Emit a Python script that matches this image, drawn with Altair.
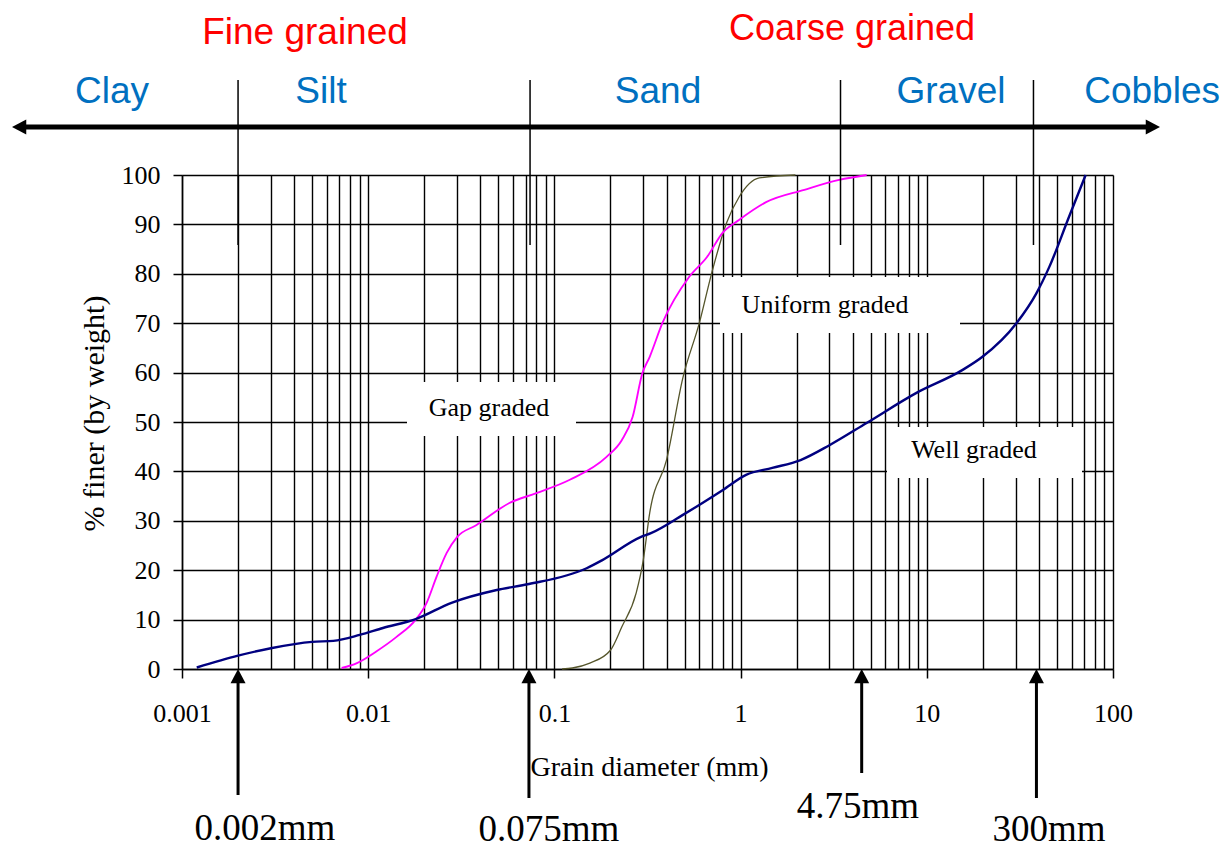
import altair as alt
import pandas as pd

# ---------------- data ----------------
well_x = [0.0012, 0.002, 0.003, 0.005, 0.0065, 0.009, 0.012, 0.018, 0.028, 0.049, 0.073,
          0.149, 0.18, 0.29, 0.33, 0.49, 0.80, 1.07, 1.48, 2.1, 3.0, 4.75, 8.8, 15.5, 19.9,
          30.3, 38.7, 45.5, 58.0, 71.3]
well_y = [0.3, 2.7, 4.2, 5.5, 5.7, 6.9, 8.3, 10.1, 13.4, 16.0, 17.2,
          20.4, 22.0, 26.7, 27.5, 31.2, 36.2, 39.3, 40.7, 42.3, 45.3, 49.8, 55.9, 60.5, 63.2,
          70.0, 76.0, 81.4, 91.5, 100.0]

gap_x = [0.0072, 0.0087, 0.011, 0.0142, 0.018, 0.0206, 0.0233, 0.0264, 0.030, 0.038, 0.0573,
         0.080, 0.121, 0.19, 0.23, 0.263, 0.297, 0.325, 0.38, 0.53, 0.66, 0.80, 0.98, 1.37,
         2.2, 3.38, 4.75]
gap_y = [0.2, 1.2, 3.5, 6.5, 10.0, 13.4, 18.7, 23.5, 26.7, 29.1, 33.6,
         35.6, 38.3, 42.9, 46.3, 51.0, 59.9, 63.2, 70.0, 79.4, 83.4, 88.3, 90.9, 94.5,
         97.0, 99.0, 100.0]

uni_x = [0.11, 0.125, 0.155, 0.2, 0.23, 0.275, 0.30, 0.325, 0.40, 0.49, 0.60, 0.70, 0.84,
         0.98, 1.26, 1.97]
uni_y = [0.0, 0.2, 1.2, 3.8, 8.5, 15.4, 22.0, 31.6, 42.3, 59.0, 70.0, 80.2, 90.3,
         95.5, 99.4, 100.0]

series_names = ["Uniform graded", "Gap graded", "Well graded"]
series_colors = ["#55552B", "#FF00FF", "#000080"]
series_widths = [1.3, 2.4, 3.0]

zone_names = ["Clay", "Silt", "Sand", "Gravel", "Cobbles"]
group_names = ["Fine grained", "Coarse grained"]
divider_mm = [0.002, 0.074, 3.44, 37.4]          # top dividers as drawn
arrow_mm = [0.002, 0.073, 4.47, 38.8]            # bottom arrows as drawn
arrow_labels = ["0.002mm", "0.075mm", "4.75mm", "300mm"]

x_major = [0.001, 0.01, 0.1, 1, 10, 100]
y_ticks = list(range(0, 101, 10))

# ---------------- build tables ----------------
rows = []
for name, xs, ys in [("Uniform graded", uni_x, uni_y),
                     ("Gap graded", gap_x, gap_y),
                     ("Well graded", well_x, well_y)]:
    for a, b in zip(xs, ys):
        rows.append({"series": name, "d": a, "p": b})
curves = pd.DataFrame(rows)

x_grid = [round(d * m, 6) for d in x_major[:-1] for m in range(1, 10)] + [x_major[-1]]

W, H = 931, 494
SERIF = "Liberation Serif"
SANS = "Liberation Sans"

xscale = alt.Scale(type="log", domain=[x_major[0], x_major[-1]], nice=False)
yscale = alt.Scale(domain=[0, 100], nice=False)

major_test = "indexof([0.001,0.01,0.1,1,10,100], datum.value) >= 0"

x_axis = alt.Axis(
    values=x_grid, title="Grain diameter (mm)",
    grid=True, gridColor="black", gridWidth=1.4, gridOpacity=1,
    domainColor="black", domainWidth=1.5,
    tickColor="black", tickWidth=1.5, tickSize=9,
    tickOpacity={"condition": {"test": major_test, "value": 1}, "value": 0},
    labelExpr=f"({major_test}) ? '' + datum.value : ''",
    labelFont=SERIF, labelFontSize=26, labelColor="black",
    labelBaseline="alphabetic", labelPadding=43,
    labelOverlap=False, labelFlush=False, labelBound=False,
    titleFont=SERIF, titleFontSize=28, titleFontWeight="normal", titleColor="black",
    titleX=467, titleY=106, titleAlign="center", titleBaseline="alphabetic",
)
y_axis = alt.Axis(
    values=y_ticks, title="% finer (by weight)",
    grid=True, gridColor="black", gridWidth=1.4, gridOpacity=1,
    domainColor="black", domainWidth=1.5,
    tickColor="black", tickWidth=1.5, tickSize=9,
    labelFont=SERIF, labelFontSize=26, labelColor="black", labelPadding=13,
    titleFont=SERIF, titleFontSize=30, titleFontWeight="normal", titleColor="black",
    titleX=-88, titleY=238, titleAngle=270, titleAlign="center", titleBaseline="middle",
)

one = pd.DataFrame({"k": [0]})


def text(t, x, y, size, color, font, align="center"):
    return alt.Chart(one).mark_text(
        text=t, font=font, fontSize=size, color=color, align=align, baseline="alphabetic"
    ).encode(x=alt.value(x), y=alt.value(y))


def box(x0, x1, y0, y1):
    return alt.Chart(one).mark_rect(color="white", opacity=1).encode(
        x=alt.value(x0), x2=alt.value(x1), y=alt.value(y0), y2=alt.value(y1))


def xenc():
    return alt.X("mm:Q", scale=xscale, axis=x_axis)


layers = []
# white label boxes over the grid
layers += [box(225, 394, 207, 261), box(538, 778, 102, 158), box(705, 900, 252, 303)]

# curves
layers.append(
    alt.Chart(curves).mark_line(interpolate="monotone").encode(
        x=alt.X("d:Q", scale=xscale, axis=x_axis),
        y=alt.Y("p:Q", scale=yscale, axis=y_axis),
        color=alt.Color("series:N", scale=alt.Scale(domain=series_names, range=series_colors), legend=None),
        strokeWidth=alt.StrokeWidth("series:N", scale=alt.Scale(domain=series_names, range=series_widths), legend=None),
    )
)

# box texts
layers += [
    text("Gap graded", 307, 241, 26, "black", SERIF),
    text("Uniform graded", 643, 138, 26, "black", SERIF),
    text("Well graded", 792, 283, 26, "black", SERIF),
]

# top dividers
layers.append(
    alt.Chart(pd.DataFrame({"mm": divider_mm})).mark_rule(color="black", strokeWidth=1.5).encode(
        x=xenc(), y=alt.value(-95), y2=alt.value(70))
)

# top double arrow
layers.append(
    alt.Chart(one).mark_rule(color="black", strokeWidth=5).encode(
        x=alt.value(-163), x2=alt.value(970), y=alt.value(-48))
)
layers.append(
    alt.Chart(one).mark_point(shape="M0,0L1.9,-1L1.9,1Z", size=225, filled=True, color="black", opacity=1).encode(
        x=alt.value(-170), y=alt.value(-48))
)
layers.append(
    alt.Chart(one).mark_point(shape="M0,0L-1.9,-1L-1.9,1Z", size=225, filled=True, color="black", opacity=1).encode(
        x=alt.value(978), y=alt.value(-48))
)

# zone and group labels
zone_pos = [(-70, "center"), (139, "center"), (476, "center"), (769, "center"), (1038, "right")]
for name, (zx, al) in zip(zone_names, zone_pos):
    layers.append(text(name, zx, -72, 37, "#0070C0", SANS, al))
group_pos = [(123, -131, 37), (670, -135, 36)]
for name, (gx, gy, fs) in zip(group_names, group_pos):
    layers.append(text(name, gx, gy, fs, "#FF0000", SANS))

# bottom arrows and labels
arrow_bottom = [620, 623, 598, 623]
label_pos = [(83, 665), (367, 666), (676, 643), (867, 666)]
for mm, lab, yb, (lx, ly) in zip(arrow_mm, arrow_labels, arrow_bottom, label_pos):
    d = pd.DataFrame({"mm": [mm]})
    layers.append(
        alt.Chart(d).mark_rule(color="black", strokeWidth=3).encode(
            x=xenc(), y=alt.value(505), y2=alt.value(yb))
    )
    layers.append(
        alt.Chart(d).mark_point(shape="M0,0L-1,1.9L1,1.9Z", size=225, filled=True, color="black", opacity=1).encode(
            x=xenc(), y=alt.value(H))
    )
    layers.append(text(lab, lx, ly, 37, "black", SERIF))

chart = alt.layer(*layers).properties(
    width=W, height=H,
    padding={"left": 174, "top": 167, "right": 108, "bottom": 180},
    autosize=alt.AutoSizeParams(type="none"),
    background="white",
).configure_view(stroke=None)

chart.save("out.html", embed_options={"renderer": "svg", "actions": False})
